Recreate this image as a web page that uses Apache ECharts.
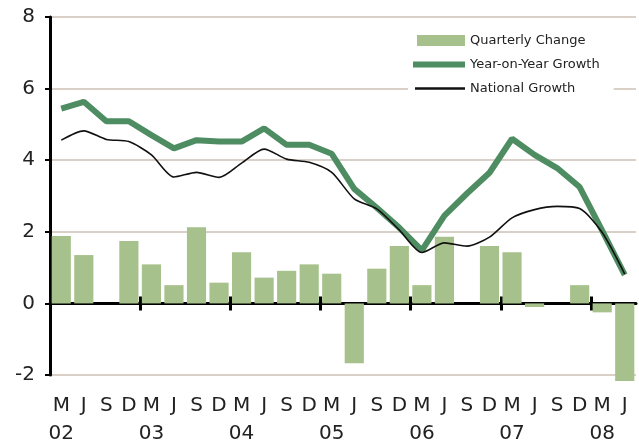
<!DOCTYPE html>
<html>
<head>
<meta charset="utf-8">
<script src="https://cdn.jsdelivr.net/npm/echarts@6/dist/echarts.min.js"></script>
<style>
html,body{margin:0;padding:0;background:#fff;}
#chart{width:639px;height:448px;}
</style>
</head>
<body>
<div id="chart"></div>
<script>
const categories = ['M','J','S','D','M','J','S','D','M','J','S','D','M','J','S','D','M','J','S','D','M','J','S','D','M','J'];
const years = ['02','03','04','05','06','07','08'];
const yTicks = [-2, 0, 2, 4, 6, 8];
const quarterlyChange = [1.88, 1.35, 0, 1.74, 1.09, 0.51, 2.13, 0.58, 1.43, 0.72, 0.91, 1.09, 0.83, -1.67, 0.97, 1.60, 0.51, 1.86, 0, 1.60, 1.43, -0.10, 0, 0.51, -0.25, -2.17];
const yoyGrowth = [5.44, 5.63, 5.09, 5.09, 4.70, 4.33, 4.56, 4.52, 4.52, 4.89, 4.43, 4.43, 4.18, 3.20, 2.67, 2.11, 1.48, 2.45, 3.07, 3.65, 4.60, 4.15, 3.78, 3.25, 2.03, 0.80];
const nationalGrowth = [4.56, 4.82, 4.58, 4.52, 4.15, 3.53, 3.66, 3.52, 3.92, 4.31, 4.03, 3.94, 3.66, 2.92, 2.64, 2.05, 1.42, 1.69, 1.60, 1.85, 2.39, 2.62, 2.71, 2.65, 1.98, 0.82];

// boundaries between quarters (for the year-separator ticks on the zero line)
const boundaries = Array.from({ length: categories.length + 1 }, (_, i) => String(i));

const FONT = 'DejaVu Sans';
const tickAxis = (inside, showLine) => ({
  type: 'category', data: boundaries, position: 'bottom', boundaryGap: false,
  axisLine: { show: showLine, onZero: true, onZeroAxisIndex: 0, lineStyle: { color: '#000', width: 3 } },
  axisTick: { show: true, inside: inside, interval: 3, length: 7, lineStyle: { color: '#000', width: 3 } },
  axisLabel: { show: false, interval: 3 }, splitLine: { show: false }
});

const chart = echarts.init(document.getElementById('chart'));
chart.setOption({
  animation: false,
  backgroundColor: '#fff',
  grid: { left: 50, right: 3, top: 17, bottom: 71 },
  legend: {
    orient: 'vertical',
    left: 408,
    top: 30,
    padding: [4, 14, 6, 5],
    backgroundColor: '#fff',
    itemWidth: 52,
    itemHeight: 11,
    itemGap: 11,
    textStyle: { fontFamily: FONT, fontSize: 13, color: '#222' },
    data: [
      { name: 'Quarterly Change', icon: 'path://M0,0M52,11M4,0L52,0L52,11L4,11Z' },
      { name: 'Year-on-Year Growth', icon: 'path://M0,0M52,11M0,2.5L52,2.5L52,8.5L0,8.5Z' },
      { name: 'National Growth', icon: 'path://M0,0M52,11M2,4.2L52,4.2L52,6.8L2,6.8Z' }
    ]
  },
  xAxis: [
    {
      type: 'category', data: categories, position: 'bottom',
      axisLine: { show: false, onZero: false },
      axisTick: { show: false },
      axisLabel: {
        interval: 0, margin: 17, fontFamily: FONT, fontSize: 20, lineHeight: 28, color: '#222',
        formatter: function (v, i) { return i % 4 === 0 ? v + '\n' + years[i / 4] : v; }
      },
      splitLine: { show: false }
    },
    tickAxis(false, true),
    tickAxis(true, false)
  ],
  yAxis: {
    type: 'value', min: yTicks[0], max: yTicks[yTicks.length - 1], interval: 2,
    axisLine: { show: true, lineStyle: { color: '#000', width: 3 } },
    axisTick: { show: true, length: 5, lineStyle: { color: '#000', width: 2 } },
    axisLabel: { margin: 15, fontFamily: FONT, fontSize: 20, color: '#222' },
    splitLine: { show: true, lineStyle: { color: '#d9d1c7', width: 2 } }
  },
  series: [
    {
      name: 'Quarterly Change', type: 'bar', data: quarterlyChange, xAxisIndex: 0,
      barCategoryGap: '15%', clip: false, z: 2,
      itemStyle: { color: '#a6c18b' }
    },
    {
      name: 'Year-on-Year Growth', type: 'line', data: yoyGrowth, xAxisIndex: 0,
      symbol: 'none', z: 3,
      lineStyle: { color: '#4e8c62', width: 6 }, itemStyle: { color: '#4e8c62' }
    },
    {
      name: 'National Growth', type: 'line', data: nationalGrowth, xAxisIndex: 0,
      symbol: 'none', smooth: 0.25, z: 4,
      lineStyle: { color: '#111', width: 1.6 }, itemStyle: { color: '#111' }
    }
  ]
});
</script>
</body>
</html>
